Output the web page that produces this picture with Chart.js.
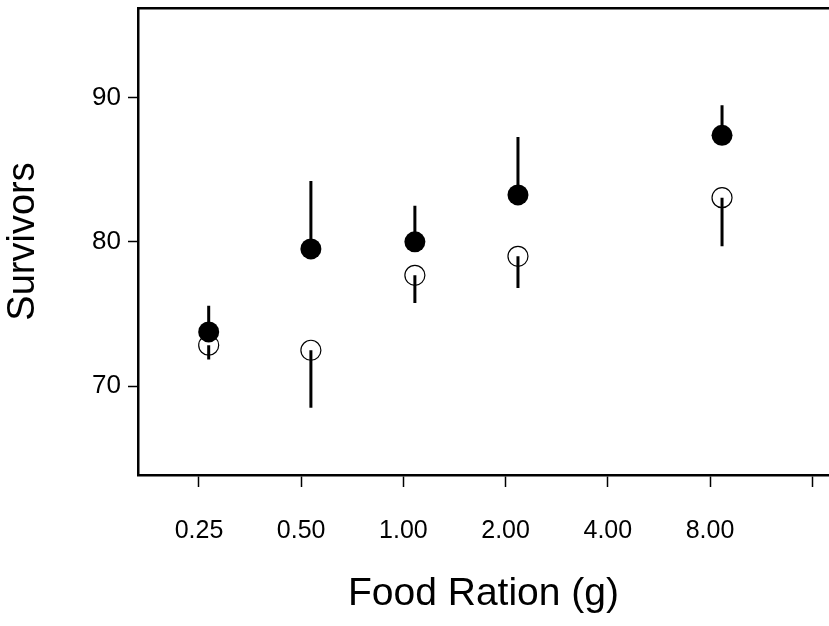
<!DOCTYPE html>
<html>
<head>
<meta charset="utf-8">
<style>
  html, body { margin: 0; padding: 0; background: #fff; overflow: hidden; }
  #wrap { width: 829px; height: 626px; }
</style>
</head>
<body>
<div id="wrap"><canvas id="survChart"></canvas></div>

<script src="https://cdn.jsdelivr.net/npm/chart.js"></script>
<script>
// food ration (g), log axis; points sit slightly right of each tick
const rations = [0.267, 0.534, 1.081, 2.175, 8.68];
const filledMean = [73.76, 79.51, 80.0, 83.25, 87.38];
const filledUpper = [75.58, 84.21, 82.5, 87.26, 89.46];
const openMean = [72.84, 72.49, 77.68, 79.0, 83.06];
const openLower = [71.85, 68.51, 75.77, 76.81, 79.7];

const xTicks = [0.25, 0.5, 1, 2, 4, 8, 16];
const xTickLabels = ["0.25", "0.50", "1.00", "2.00", "4.00", "8.00", ""];
const yTicks = [70, 80, 90];

const FONT = "'Liberation Sans', Arial, Helvetica, sans-serif";

function points(ys) {
    return rations.map((x, i) => ({ x: x, y: ys[i] }));
}

// one broken line per group: mean -> end, then a gap
function bars(means, ends) {
    let out = [];
    rations.forEach((x, i) => {
        out.push({ x: x, y: means[i] });
        out.push({ x: x, y: ends[i] });
        out.push({ x: x, y: null });
    });
    return out;
}

const ctx = document.getElementById("survChart").getContext("2d");
new Chart(ctx, {
    type: "scatter",
    data: {
        datasets: [
            {
                label: "filled",
                data: points(filledMean),
                backgroundColor: "#000",
                borderColor: "#000",
                pointRadius: 10.5,
                pointBorderWidth: 0,
                order: 0
            },
            {
                label: "open",
                data: points(openMean),
                backgroundColor: "rgba(0,0,0,0)",
                borderColor: "#000",
                pointRadius: 10,
                pointBorderWidth: 1.2,
                order: 2
            },
            {
                type: "line",
                label: "filled err",
                data: bars(filledMean, filledUpper),
                borderColor: "#000",
                borderWidth: 3,
                pointRadius: 0,
                spanGaps: false,
                order: 1
            },
            {
                type: "line",
                label: "open err",
                data: bars(openMean, openLower),
                borderColor: "#000",
                borderWidth: 3,
                pointRadius: 0,
                spanGaps: false,
                order: 1
            }
        ]
    },
    options: {
        responsive: true,
        maintainAspectRatio: false,
        animation: false,
        layout: {
            autoPadding: false,
            padding: { top: 8, right: 0, left: 0, bottom: 0 }
        },
        plugins: {
            legend: { display: false },
            tooltip: { enabled: false }
        },
        scales: {
            x: {
                type: "logarithmic",
                position: "bottom",
                min: 0.1653,
                max: 17.93,
                afterBuildTicks: function(scale) {
                    scale.ticks = xTicks.map(v => ({ value: v }));
                },
                afterFit: function(scale) {
                    scale.height = 151;
                    scale.paddingLeft = 0;
                    scale.paddingRight = 0;
                },
                ticks: {
                    autoSkip: false,
                    maxRotation: 0,
                    padding: 29,
                    color: "#000",
                    font: { family: FONT, size: 25 },
                    callback: function(v, i) { return xTickLabels[i]; }
                },
                grid: {
                    drawOnChartArea: false,
                    drawTicks: true,
                    tickLength: 12,
                    tickWidth: 1.5,
                    tickColor: "#000"
                },
                border: { display: true, color: "#000", width: 2.5 },
                title: {
                    display: true,
                    text: "Food Ration (g)",
                    color: "#000",
                    font: { family: FONT, size: 39 },
                    padding: { top: 0, bottom: 8 }
                }
            },
            xTop: {
                type: "linear",
                position: "top",
                display: true,
                afterFit: function(scale) {
                    scale.height = 0;
                    scale.paddingLeft = 0;
                    scale.paddingRight = 0;
                },
                ticks: { display: false },
                grid: { display: false, drawTicks: false },
                border: { display: true, color: "#000", width: 2.5 }
            },
            y: {
                type: "linear",
                min: 63.85,
                max: 96.2,
                afterBuildTicks: function(scale) {
                    scale.ticks = yTicks.map(v => ({ value: v }));
                },
                afterFit: function(scale) {
                    scale.width = 138;
                    scale.paddingTop = 0;
                    scale.paddingBottom = 0;
                },
                ticks: {
                    padding: 7,
                    color: "#000",
                    font: { family: FONT, size: 26 }
                },
                grid: {
                    drawOnChartArea: false,
                    drawTicks: true,
                    tickLength: 10,
                    tickWidth: 1.5,
                    tickColor: "#000"
                },
                border: { display: true, color: "#000", width: 2.5 },
                title: {
                    display: true,
                    text: "Survivors",
                    color: "#000",
                    font: { family: FONT, size: 38 },
                    padding: { top: 1, bottom: 0 }
                }
            }
        }
    }
});
</script>
</body>
</html>
